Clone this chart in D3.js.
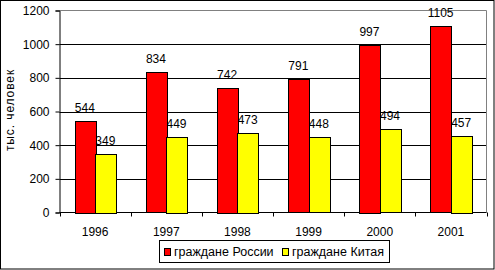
<!DOCTYPE html>
<html><head><meta charset="utf-8">
<script src="https://cdn.jsdelivr.net/npm/d3@7"></script>
<style>body{margin:0;background:#fff}svg{display:block}text{font-family:Arial,"Liberation Sans",sans-serif;fill:#000}</style>
</head><body>
<script>
const years = ["1996","1997","1998","1999","2000","2001"];
const russia = [544, 834, 742, 791, 997, 1105];
const china = [349, 449, 473, 448, 494, 457];
const seriesNames = ["граждане России", "граждане Китая"];
const seriesColors = ["#ff0000", "#ffff00"];
const yTicks = [0, 200, 400, 600, 800, 1000, 1200];
const yTitle = "тыс. человек";

const W = 495, H = 270;
const svg = d3.select("body").append("svg").attr("width", W).attr("height", H);
svg.append("rect").attr("x",0.5).attr("y",0.5).attr("width",W-1.5).attr("height",H-1.5)
  .attr("fill","#fff").attr("stroke","#000");

const L = 59.5, R = 486.5, T = 10.5, B = 212.5;
const x = d3.scaleBand().domain(years).range([L, R]).paddingInner(0).paddingOuter(0);
const y = d3.scaleLinear().domain([0, 1200]).range([B, T]);
const xs = d3.scaleBand().domain([0,1]).range([0, x.bandwidth()]).paddingOuter(0.73).paddingInner(0);

// gridlines
svg.append("g").selectAll("line").data(yTicks.filter(v => v > 0 && v < 1200)).join("line")
  .attr("x1", L).attr("x2", R).attr("y1", d => Math.round(y(d)) + 0.5).attr("y2", d => Math.round(y(d)) + 0.5)
  .attr("stroke", "#000");
// plot border top/right gray
svg.append("path").attr("d", `M${L},${T}H${R}V${B}`).attr("fill","none").attr("stroke","#808080");

// y axis
const yAxis = d3.axisLeft(y).tickValues(yTicks).tickFormat(d3.format("d")).tickSize(4).tickPadding(6);
const gy = svg.append("g").attr("transform", `translate(${L},0)`).call(yAxis);
gy.selectAll("text").style("font-size","12px").attr("fill","#000");
gy.select(".domain").attr("stroke","#000");
gy.selectAll(".tick line").attr("stroke","#000");

// x axis
const gx = svg.append("g").attr("transform", `translate(0,${B})`);
gx.append("line").attr("x1", L).attr("x2", R).attr("stroke", "#000");
gx.selectAll("line.tk").data(d3.range(years.length + 1)).join("line").attr("class","tk")
  .attr("x1", i => Math.round(L + i * x.step()) + 0.5).attr("x2", i => Math.round(L + i * x.step()) + 0.5)
  .attr("y1", 0).attr("y2", 4).attr("stroke","#000");
gx.selectAll("text").data(years).join("text")
  .attr("x", d => x(d) + x.bandwidth()/2).attr("y", 23)
  .attr("text-anchor","middle").style("font-size","12px").text(d => d);

// bars
const series = [russia, china];
series.forEach((vals, si) => {
  const g = svg.append("g");
  g.selectAll("rect").data(vals).join("rect")
    .attr("x", (d, i) => Math.round(x(years[i]) + xs(si)) + 0.5)
    .attr("width", Math.round(xs.bandwidth()))
    .attr("y", d => Math.round(y(d)) + 0.5)
    .attr("height", d => Math.round(B - y(d)))
    .attr("fill", seriesColors[si]).attr("stroke", "#000");
  g.selectAll("text").data(vals).join("text")
    .attr("x", (d, i) => x(years[i]) + xs(si) + xs.bandwidth()/2)
    .attr("y", d => y(d) - 9)
    .attr("text-anchor","middle").style("font-size","12px").text(d => d);
});

// y title
svg.append("text").attr("transform", `translate(13.5,110) rotate(-90)`)
  .attr("text-anchor","middle").style("font-size","12px").style("letter-spacing","0.9px").text(yTitle);

// legend
const lg = svg.append("g");
lg.append("rect").attr("x",159.5).attr("y",240.5).attr("width",230).attr("height",22)
  .attr("fill","#fff").attr("stroke","#000");
const legX = [164, 282];
seriesNames.forEach((n, i) => {
  lg.append("rect").attr("x", legX[i] + 0.5).attr("y", 248.5).attr("width", 6).attr("height", 7)
    .attr("fill", seriesColors[i]).attr("stroke", "#000");
  lg.append("text").attr("x", legX[i] + 10).attr("y", 256).style("font-size","12.5px").text(n);
});
</script>
</body></html>
